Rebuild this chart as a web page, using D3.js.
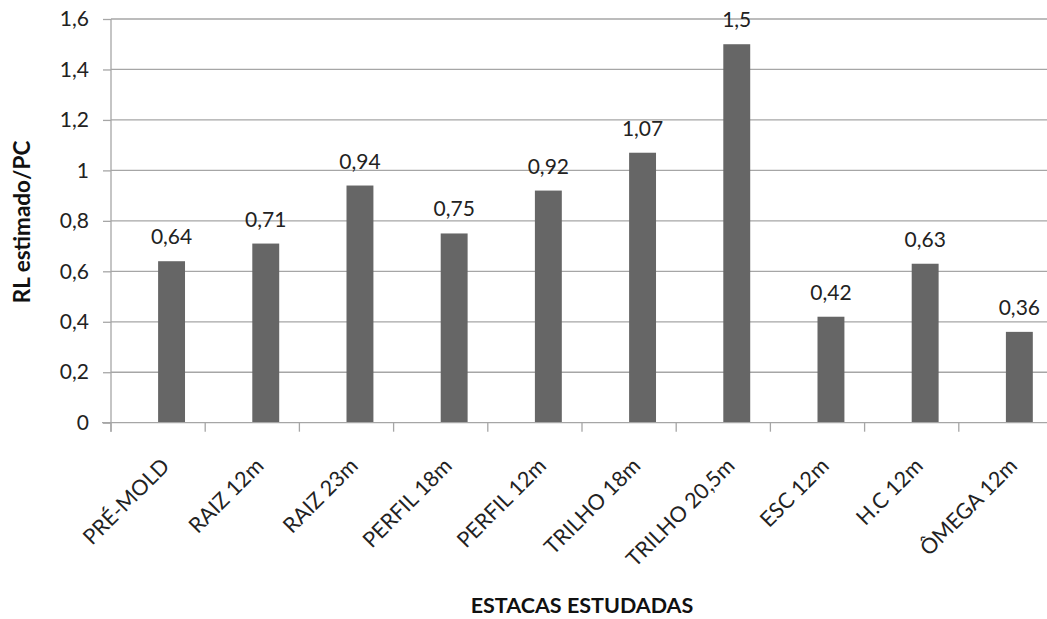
<!DOCTYPE html>
<html><head><meta charset="utf-8">
<script src="https://cdn.jsdelivr.net/npm/d3@7"></script>
<style>body{margin:0;background:#fff}svg{display:block}text{font-family:Lato,"Open Sans",sans-serif}</style>
</head><body><svg id="c" width="1047" height="619"></svg>
<script>
const categories = ["PRÉ-MOLD","RAIZ 12m","RAIZ 23m","PERFIL 18m","PERFIL 12m","TRILHO 18m","TRILHO 20,5m","ESC 12m","H.C 12m","ÔMEGA 12m"];
const values = [0.64,0.71,0.94,0.75,0.92,1.07,1.5,0.42,0.63,0.36];
const yTicks = [0,0.2,0.4,0.6,0.8,1,1.2,1.4,1.6];
const seriesSlots = ["empty","RL"];
const yTitle = "RL estimado/PC";
const xTitle = "ESTACAS ESTUDADAS";

const svg = d3.select("#c");
const L=111, R=1053, T=19, B=422.7;
const fmt = v => String(v).replace(".", ",");
const x = d3.scaleBand().domain(categories).range([L,R]).padding(0);
const sub = d3.scaleBand().domain(seriesSlots).range([0,x.bandwidth()]).paddingInner(0).paddingOuter(0.75);
const y = d3.scaleLinear().domain([0,1.6]).range([B,T]);

// gridlines
svg.append("g").selectAll("line").data(yTicks.filter(d=>d>0)).join("line")
  .attr("x1",L).attr("x2",R).attr("y1",d=>y(d)).attr("y2",d=>y(d))
  .attr("stroke","#a6a6a6").attr("stroke-width",1.3);

// y axis
const ya = svg.append("g").attr("transform",`translate(${L},0)`)
  .call(d3.axisLeft(y).tickValues(yTicks).tickFormat(fmt).tickSize(8).tickPadding(14));
ya.select(".domain").attr("stroke","#a6a6a6").attr("stroke-width",1.3).attr("d",`M0,${T}V${B+9}`);
ya.selectAll(".tick line").attr("stroke","#a6a6a6").attr("stroke-width",1.3);
ya.selectAll(".tick text").attr("font-size",21).attr("fill","#222").style("font-family","Lato,'Open Sans',sans-serif");

// bars
svg.append("g").selectAll("rect").data(values).join("rect")
  .attr("x",(d,i)=>x(categories[i])+sub("RL"))
  .attr("width",sub.bandwidth())
  .attr("y",d=>y(d)).attr("height",d=>B-y(d))
  .attr("fill","#666666");

// x axis
const xa = svg.append("g").attr("transform",`translate(0,${B})`);
xa.append("line").attr("x1",L-9).attr("x2",R).attr("stroke","#a6a6a6").attr("stroke-width",1.3);
xa.selectAll("line.t").data(categories).join("line").attr("class","t")
  .attr("x1",d=>x(d)).attr("x2",d=>x(d)).attr("y1",0).attr("y2",9)
  .attr("stroke","#a6a6a6").attr("stroke-width",1.3);
xa.selectAll("text").data(categories).join("text")
  .attr("transform",d=>`translate(${x(d)+x.bandwidth()/2+2},${34}) rotate(-45)`)
  .attr("text-anchor","end").attr("dy","0.7em")
  .attr("font-size",21.5).attr("fill","#222").text(d=>d);

// value labels
svg.append("g").selectAll("text").data(values).join("text")
  .attr("x",(d,i)=>x(categories[i])+sub("RL")+sub.bandwidth()/2)
  .attr("y",d=>y(d)-17)
  .attr("text-anchor","middle").attr("font-size",21).attr("fill","#222")
  .text(d=>fmt(d));

// titles
svg.append("text").attr("transform","translate(30,222) rotate(-90)")
  .attr("text-anchor","middle").attr("font-size",22.5).attr("font-weight","bold").attr("fill","#111").text(yTitle);
svg.append("text").attr("x",582).attr("y",613)
  .attr("text-anchor","middle").attr("font-size",21.5).attr("font-weight","bold").attr("fill","#111").text(xTitle);
</script></body></html>
